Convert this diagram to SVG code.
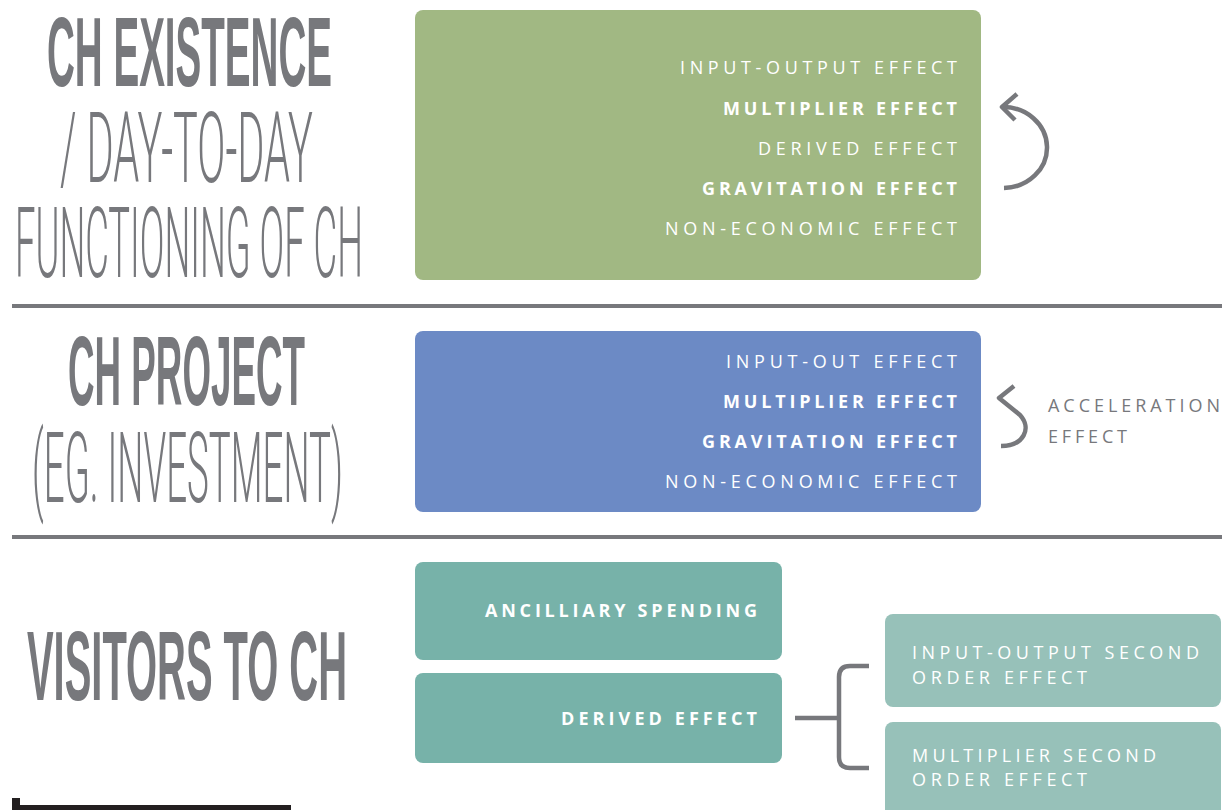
<svg xmlns="http://www.w3.org/2000/svg" width="1230" height="810" viewBox="0 0 1230 810">
<style>
.title{fill:#77787c;font-size:99px;}
.tb{font-family:"Liberation Sans",Arial,sans-serif;font-weight:bold;}
.tl{font-family:Roboto,"Liberation Sans",sans-serif;font-weight:300;}
.lbl{font-family:"Open Sans","Noto Sans","Liberation Sans",sans-serif;font-size:18px;fill:#ffffff;}
.bold{font-weight:bold;}
.gray{fill:#77787c;}
.rule{fill:#77787c;}
.conn{fill:none;stroke:#77787c;stroke-width:4.5;stroke-linecap:butt;stroke-linejoin:round;}
</style>
<rect width="1230" height="810" fill="#ffffff"/>

<g id="titles">
  <text class="title tb" transform="translate(47,86) scale(0.39,1)" x="0" y="0" textLength="730.8" lengthAdjust="spacingAndGlyphs">CH EXISTENCE</text>
  <text class="title tl" transform="translate(60,182) scale(0.404,1)" x="0" y="0" textLength="626.2" lengthAdjust="spacingAndGlyphs">/ DAY-TO-DAY</text>
  <text class="title tl" transform="translate(15,277) scale(0.366,1)" x="0" y="0" textLength="950.8" lengthAdjust="spacingAndGlyphs">FUNCTIONING OF CH</text>
  <text class="title tb" transform="translate(68,405) scale(0.371,1)" x="0" y="0" textLength="638.8" lengthAdjust="spacingAndGlyphs">CH PROJECT</text>
  <text class="title tl" transform="translate(32,502) scale(0.364,1)" x="0" y="0" textLength="854.4" lengthAdjust="spacingAndGlyphs">(EG. INVESTMENT)</text>
  <text class="title tb" transform="translate(27,700) scale(0.401,1)" x="0" y="0" textLength="798" lengthAdjust="spacingAndGlyphs">VISITORS TO CH</text>
</g>

<g id="rules">
  <rect class="rule" x="12" y="304" width="1210" height="4"/>
  <rect class="rule" x="12" y="535" width="1210" height="4"/>
  <rect x="12" y="798" width="8" height="12" fill="#231f20"/>
  <rect x="12" y="805" width="279" height="5" fill="#231f20"/>
</g>

<g id="existence-box">
  <rect x="415" y="10" width="566" height="270" rx="8" fill="#a1b883"/>
  <text class="lbl" x="680" y="74" textLength="277" lengthAdjust="spacing">INPUT-OUTPUT EFFECT</text>
  <text class="lbl bold" x="723" y="114.5" textLength="234" lengthAdjust="spacing">MULTIPLIER EFFECT</text>
  <text class="lbl" x="758" y="155" textLength="199" lengthAdjust="spacing">DERIVED EFFECT</text>
  <text class="lbl bold" x="702" y="195" textLength="255" lengthAdjust="spacing">GRAVITATION EFFECT</text>
  <text class="lbl" x="665" y="235" textLength="292" lengthAdjust="spacing">NON-ECONOMIC EFFECT</text>
</g>

<g id="project-box">
  <rect x="415" y="331" width="566" height="181" rx="8" fill="#6c8ac5"/>
  <text class="lbl" x="726" y="367.5" textLength="231" lengthAdjust="spacing">INPUT-OUT EFFECT</text>
  <text class="lbl bold" x="723" y="408" textLength="234" lengthAdjust="spacing">MULTIPLIER EFFECT</text>
  <text class="lbl bold" x="702" y="448" textLength="255" lengthAdjust="spacing">GRAVITATION EFFECT</text>
  <text class="lbl" x="665" y="488" textLength="292" lengthAdjust="spacing">NON-ECONOMIC EFFECT</text>
</g>

<g id="acceleration-label">
  <text class="lbl gray" x="1048" y="412" textLength="172" lengthAdjust="spacing">ACCELERATION</text>
  <text class="lbl gray" x="1048" y="443" textLength="79" lengthAdjust="spacing">EFFECT</text>
</g>

<g id="ancilliary-box">
  <rect x="415" y="562" width="367" height="98" rx="8" fill="#77b2a9"/>
  <text class="lbl bold" x="485" y="617" textLength="272" lengthAdjust="spacing">ANCILLIARY SPENDING</text>
</g>

<g id="derived-box">
  <rect x="415" y="673" width="367" height="90" rx="8" fill="#77b2a9"/>
  <text class="lbl bold" x="561" y="725" textLength="196" lengthAdjust="spacing">DERIVED EFFECT</text>
</g>

<g id="io-second-box">
  <rect x="885" y="614" width="336" height="93" rx="8" fill="#97c1b9"/>
  <text class="lbl" x="912" y="659" textLength="287" lengthAdjust="spacing">INPUT-OUTPUT SECOND</text>
  <text class="lbl" x="912" y="684" textLength="175" lengthAdjust="spacing">ORDER EFFECT</text>
</g>

<g id="mult-second-box">
  <rect x="885" y="722" width="336" height="110" rx="8" fill="#97c1b9"/>
  <text class="lbl" x="912" y="762" textLength="244" lengthAdjust="spacing">MULTIPLIER SECOND</text>
  <text class="lbl" x="912" y="786" textLength="175" lengthAdjust="spacing">ORDER EFFECT</text>
</g>

<g id="connectors">
  <path class="conn" d="M1004,188 A44,40.5 0 0 0 1002,107"/>
  <path class="conn" d="M1017,94 L1002,107 L1015,120"/>
  <path class="conn" d="M1001,446 C1024,446 1032,428 1020,415 L999,398 L1014,386"/>
  <path class="conn" d="M795,718 L839,718"/>
  <path class="conn" d="M869,666 L850,666 Q839,666 839,677 L839,757 Q839,768 850,768 L869,768"/>
</g>
</svg>
